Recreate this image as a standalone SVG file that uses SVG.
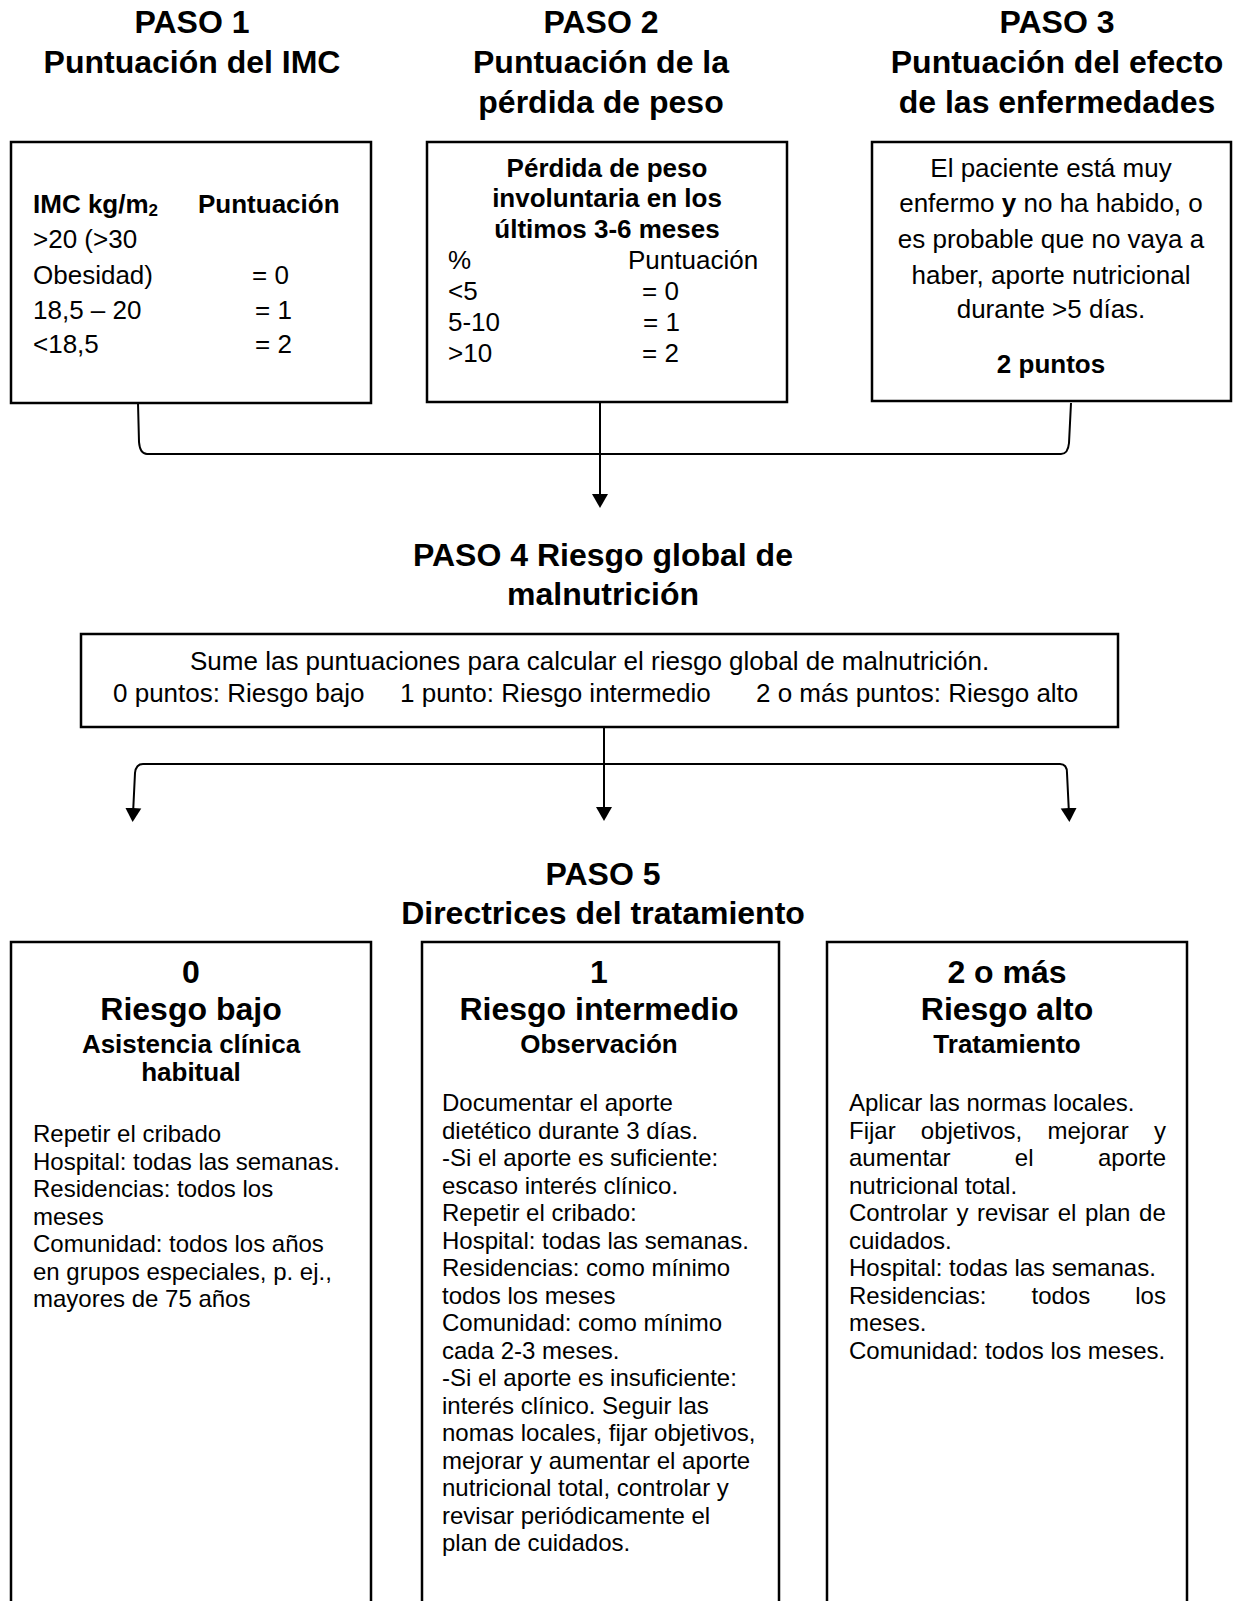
<svg xmlns="http://www.w3.org/2000/svg" width="1238" height="1601" viewBox="0 0 1238 1601">
<style>
text{font-family:"Liberation Sans",Arial,sans-serif;fill:#000}
.box{fill:#fff;stroke:#000;stroke-width:2.5}
.conn{fill:none;stroke:#000;stroke-width:2}
.h{font-size:32px;font-weight:bold;text-anchor:middle}
.b26{font-size:26px;font-weight:bold}
.r26{font-size:26px}
.r24{font-size:24px}
.c{text-anchor:middle}
</style>
<defs>
<marker id="arr" markerUnits="userSpaceOnUse" markerWidth="16" markerHeight="18" viewBox="0 -9 16 18" refX="6" refY="0" orient="auto">
<path d="M0,-8 L14,0 L0,8 z" fill="#000"/>
</marker>
</defs>
<rect x="0" y="0" width="1238" height="1601" fill="#fff"/>

<g id="titles">
<text class="h" x="192" y="33">PASO 1</text>
<text class="h" x="192" y="73">Puntuación del IMC</text>
<text class="h" x="601" y="33">PASO 2</text>
<text class="h" x="601" y="73">Puntuación de la</text>
<text class="h" x="601" y="113">pérdida de peso</text>
<text class="h" x="1057" y="33">PASO 3</text>
<text class="h" x="1057" y="73">Puntuación del efecto</text>
<text class="h" x="1057" y="113">de las enfermedades</text>
<text class="h" x="603" y="566">PASO 4 Riesgo global de</text>
<text class="h" x="603" y="605">malnutrición</text>
<text class="h" x="603" y="885">PASO 5</text>
<text class="h" x="603" y="924">Directrices del tratamiento</text>
</g>

<g id="connectors">
<path class="conn" d="M138,403 L139,442 Q140,454 147,454 L1061,454 Q1068,454 1069,443 L1071,403"/>
<path class="conn" d="M600,402 L600,500" marker-end="url(#arr)"/>
<path class="conn" d="M604,727 L604,813" marker-end="url(#arr)"/>
<path class="conn" d="M604,764 L143,764 Q136,764 135,773 L133,814" marker-end="url(#arr)"/>
<path class="conn" d="M604,764 L1060,764 Q1067,764 1067,773 L1069,814" marker-end="url(#arr)"/>
</g>

<g id="paso1">
<rect class="box" x="11" y="142" width="360" height="261"/>
<text class="b26" x="33" y="213">IMC kg/m<tspan font-size="17" dy="3">2</tspan></text>
<text class="b26" x="198" y="213">Puntuación</text>
<text class="r26" x="33" y="248">&gt;20 (&gt;30</text>
<text class="r26" x="33" y="284">Obesidad)</text>
<text class="r26" x="252" y="284">= 0</text>
<text class="r26" x="33" y="319">18,5 – 20</text>
<text class="r26" x="255" y="319">= 1</text>
<text class="r26" x="33" y="353">&lt;18,5</text>
<text class="r26" x="255" y="353">= 2</text>
</g>

<g id="paso2">
<rect class="box" x="427" y="142" width="360" height="260"/>
<text class="b26 c" x="607" y="177">Pérdida de peso</text>
<text class="b26 c" x="607" y="207">involuntaria en los</text>
<text class="b26 c" x="607" y="238">últimos 3-6 meses</text>
<text class="r26" x="448" y="269">%</text>
<text class="r26" x="628" y="269">Puntuación</text>
<text class="r26" x="448" y="300">&lt;5</text>
<text class="r26" x="642" y="300">= 0</text>
<text class="r26" x="448" y="331">5-10</text>
<text class="r26" x="643" y="331">= 1</text>
<text class="r26" x="448" y="362">&gt;10</text>
<text class="r26" x="642" y="362">= 2</text>
</g>

<g id="paso3">
<rect class="box" x="872" y="142" width="359" height="259"/>
<text class="r26 c" x="1051" y="177">El paciente está muy</text>
<text class="r26 c" x="1051" y="212">enfermo <tspan font-weight="bold">y</tspan> no ha habido, o</text>
<text class="r26 c" x="1051" y="248">es probable que no vaya a</text>
<text class="r26 c" x="1051" y="284">haber, aporte nutricional</text>
<text class="r26 c" x="1051" y="318">durante &gt;5 días.</text>
<text class="b26 c" x="1051" y="373">2 puntos</text>
</g>

<g id="paso4">
<rect class="box" x="81" y="634" width="1037" height="93"/>
<text class="r26" x="190" y="670">Sume las puntuaciones para calcular el riesgo global de malnutrición.</text>
<text class="r26" x="113" y="702">0 puntos: Riesgo bajo</text>
<text class="r26" x="400" y="702">1 punto: Riesgo intermedio</text>
<text class="r26" x="756" y="702">2 o más puntos: Riesgo alto</text>
</g>

<g id="riesgo-bajo">
<rect class="box" x="11" y="942" width="360" height="700"/>
<text class="h" x="191" y="983">0</text>
<text class="h" x="191" y="1020">Riesgo bajo</text>
<text class="b26 c" x="191" y="1053">Asistencia clínica</text>
<text class="b26 c" x="191" y="1081">habitual</text>
<text class="r24" x="33" y="1142">Repetir el cribado</text>
<text class="r24" x="33" y="1169.5">Hospital: todas las semanas.</text>
<text class="r24" x="33" y="1197">Residencias: todos los</text>
<text class="r24" x="33" y="1224.5">meses</text>
<text class="r24" x="33" y="1252">Comunidad: todos los años</text>
<text class="r24" x="33" y="1279.5">en grupos especiales, p. ej.,</text>
<text class="r24" x="33" y="1307">mayores de 75 años</text>
</g>

<g id="riesgo-intermedio">
<rect class="box" x="422" y="942" width="357" height="700"/>
<text class="h" x="599" y="983">1</text>
<text class="h" x="599" y="1020">Riesgo intermedio</text>
<text class="b26 c" x="599" y="1053">Observación</text>
<text class="r24" x="442" y="1111">Documentar el aporte</text>
<text class="r24" x="442" y="1138.5">dietético durante 3 días.</text>
<text class="r24" x="442" y="1166">-Si el aporte es suficiente:</text>
<text class="r24" x="442" y="1193.5">escaso interés clínico.</text>
<text class="r24" x="442" y="1221">Repetir el cribado:</text>
<text class="r24" x="442" y="1248.5">Hospital: todas las semanas.</text>
<text class="r24" x="442" y="1276">Residencias: como mínimo</text>
<text class="r24" x="442" y="1303.5">todos los meses</text>
<text class="r24" x="442" y="1331">Comunidad: como mínimo</text>
<text class="r24" x="442" y="1358.5">cada 2-3 meses.</text>
<text class="r24" x="442" y="1386">-Si el aporte es insuficiente:</text>
<text class="r24" x="442" y="1413.5">interés clínico. Seguir las</text>
<text class="r24" x="442" y="1441">nomas locales, fijar objetivos,</text>
<text class="r24" x="442" y="1468.5">mejorar y aumentar el aporte</text>
<text class="r24" x="442" y="1496">nutricional total, controlar y</text>
<text class="r24" x="442" y="1523.5">revisar periódicamente el</text>
<text class="r24" x="442" y="1551">plan de cuidados.</text>
</g>

<g id="riesgo-alto">
<rect class="box" x="827" y="942" width="360" height="700"/>
<text class="h" x="1007" y="983">2 o más</text>
<text class="h" x="1007" y="1020">Riesgo alto</text>
<text class="b26 c" x="1007" y="1053">Tratamiento</text>
<text class="r24" x="849" y="1111">Aplicar las normas locales.</text>
<text class="r24" x="849" y="1138.5" word-spacing="18.5">Fijar objetivos, mejorar y</text>
<text class="r24" x="849" y="1166" word-spacing="57.8">aumentar el aporte</text>
<text class="r24" x="849" y="1193.5">nutricional total.</text>
<text class="r24" x="849" y="1221" word-spacing="2">Controlar y revisar el plan de</text>
<text class="r24" x="849" y="1248.5">cuidados.</text>
<text class="r24" x="849" y="1276">Hospital: todas las semanas.</text>
<text class="r24" x="849" y="1303.5" word-spacing="38.4">Residencias: todos los</text>
<text class="r24" x="849" y="1331">meses.</text>
<text class="r24" x="849" y="1358.5">Comunidad: todos los meses.</text>
</g>
</svg>
